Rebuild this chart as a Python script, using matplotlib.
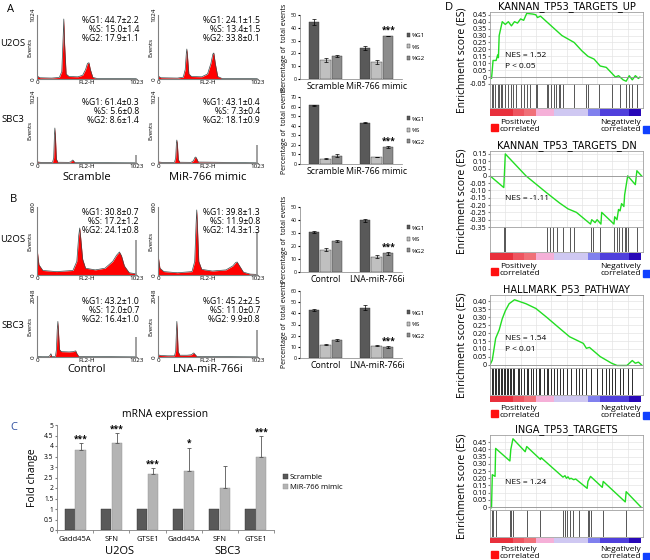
import numpy as np
import matplotlib
matplotlib.use("Agg")
import matplotlib.pyplot as plt
from matplotlib.patches import Rectangle

plt.rcParams['font.family'] = ['Open Sans', 'DejaVu Sans']

# ---------------- DATA ----------------
# flow cytometry histograms (FL2-H channel, events)
a_u2os_scr_x = [0, 8, 30, 150, 230, 255, 270, 276, 283, 300, 330, 420, 470, 500, 520, 535, 550, 575, 620, 1023]
a_u2os_scr_y = [90, 40, 20, 15, 25, 120, 700, 960, 600, 80, 40, 35, 60, 150, 250, 260, 150, 25, 8, 5]
a_u2os_mim_x = [0, 8, 30, 200, 260, 280, 292, 297, 303, 318, 345, 450, 510, 545, 565, 575, 590, 615, 660, 1023]
a_u2os_mim_y = [90, 40, 20, 15, 30, 150, 420, 480, 380, 80, 40, 35, 80, 250, 400, 416, 250, 40, 8, 5]
a_sbc3_scr_x = [0, 10, 40, 160, 172, 180, 184, 190, 200, 215, 330, 350, 362, 368, 375, 390, 1023]
a_sbc3_scr_y = [40, 15, 10, 10, 80, 450, 543, 400, 60, 12, 10, 20, 40, 46, 35, 8, 3]
a_sbc3_mim_x = [0, 10, 40, 170, 182, 190, 194, 199, 210, 225, 340, 365, 380, 389, 398, 415, 1023]
a_sbc3_mim_y = [40, 15, 10, 10, 80, 320, 357, 300, 50, 12, 10, 35, 85, 93, 70, 15, 3]
b_u2os_ctl_x = [0, 5, 20, 60, 200, 370, 410, 430, 440, 450, 470, 500, 600, 700, 780, 820, 849, 870, 900, 950,
                1023]
b_u2os_ctl_y = [397, 200, 90, 40, 30, 40, 120, 350, 415, 330, 140, 60, 45, 60, 120, 175, 203, 170, 80, 20, 10]
b_u2os_lna_x = [0, 5, 20, 60, 200, 350, 378, 392, 399, 406, 420, 450, 560, 700, 770, 800, 815, 840, 880, 950,
                1023]
b_u2os_lna_y = [310, 150, 60, 30, 20, 30, 120, 450, 574, 430, 120, 50, 35, 45, 80, 110, 115, 80, 25, 8, 5]
b_sbc3_ctl_x = [0, 50, 120, 135, 143, 152, 190, 200, 208, 215, 222, 232, 250, 330, 375, 390, 399, 410, 430, 1023]
b_sbc3_ctl_y = [20, 10, 10, 60, 110, 20, 20, 250, 900, 1195, 800, 250, 180, 170, 180, 200, 205, 120, 20, 5]
b_sbc3_lna_x = [0, 5, 30, 100, 170, 182, 190, 194, 199, 208, 225, 300, 345, 360, 368, 378, 400, 1023]
b_sbc3_lna_y = [100, 70, 50, 40, 40, 200, 900, 1195, 850, 180, 60, 60, 75, 120, 137, 100, 20, 5]
# height of the last channel (1023) spike
edge_counts = [0, 0, 124, 280, 310, 380, 680, 920]

# cell cycle percentages [G1, S, G2] per condition
phases = ["%G1", "%S", "%G2"]
a_u2os_mean = [[44.7, 15.0, 17.9], [24.1, 13.4, 33.8]]
a_u2os_sd = [[2.2, 1.4, 1.1], [1.5, 1.5, 0.1]]
a_sbc3_mean = [[61.4, 5.6, 8.6], [43.1, 7.3, 18.1]]
a_sbc3_sd = [[0.3, 0.8, 1.4], [0.4, 0.4, 0.9]]
b_u2os_mean = [[30.8, 17.2, 24.1], [39.8, 11.9, 14.3]]
b_u2os_sd = [[0.7, 1.2, 0.8], [1.3, 0.8, 1.3]]
b_sbc3_mean = [[43.2, 12.0, 16.4], [45.2, 11.0, 9.9]]
b_sbc3_sd = [[1.0, 0.7, 1.0], [2.5, 0.7, 0.8]]
groups_a = ["Scramble", "MiR-766 mimic"]
groups_b = ["Control", "LNA-miR-766i"]

# panel C
genes = ["Gadd45A", "SFN", "GTSE1", "Gadd45A", "SFN", "GTSE1"]
scr_fc = [1, 1, 1, 1, 1, 1]
mimic_fc = [3.82, 4.12, 2.65, 2.82, 2.0, 3.5]
mimic_err = [0.33, 0.5, 0.3, 1.1, 1.05, 0.97]
c_stars = ["***", "***", "***", "*", "", "***"]
cell_lines = ["U2OS", "SBC3"]

# panel D: running enrichment score
es1_x = [0, 0.01, 0.02, 0.04, 0.05, 0.055, 0.06, 0.08, 0.10, 0.12, 0.14, 0.16, 0.18, 0.20, 0.22, 0.24, 0.28,
         0.30, 0.31, 0.33, 0.40, 0.47, 0.55, 0.60, 0.64, 0.68, 0.72, 0.76, 0.82, 0.84, 0.87, 0.89, 0.91, 0.93,
         0.95, 0.97, 0.98]
es1_y = [0, -0.01, 0.12, 0.12, 0.16, 0.14, 0.30, 0.40, 0.38, 0.40, 0.37, 0.40, 0.39, 0.42, 0.41, 0.46, 0.455,
         0.45, 0.43, 0.44, 0.37, 0.30, 0.25, 0.19, 0.15, 0.13, 0.08, 0.07, 0.0, 0.01, -0.02, -0.03, 0.01, -0.02,
         0.01, -0.01, 0.0]
hits1 = [0.01, 0.02, 0.03, 0.05, 0.06, 0.07, 0.08, 0.10, 0.12, 0.14, 0.15, 0.17, 0.20, 0.22, 0.24, 0.26, 0.30,
         0.31, 0.37, 0.38, 0.40, 0.42, 0.43, 0.45, 0.46, 0.48, 0.55, 0.63, 0.64, 0.71, 0.80, 0.85, 0.89, 0.91,
         0.93, 0.96]
es2_x = [0, 0.09, 0.095, 0.10, 0.235, 0.37, 0.455, 0.51, 0.565, 0.657, 0.665, 0.687, 0.70, 0.725, 0.73, 0.81,
         0.815, 0.83, 0.84, 0.85, 0.86, 0.875, 0.88, 0.90, 0.95, 0.96, 0.99]
es2_y = [0, -0.08, 0.03, 0.15, 0.0, -0.116, -0.186, -0.226, -0.25, -0.33, -0.30, -0.32, -0.30, -0.33, -0.25,
         -0.33, -0.28, -0.30, -0.23, -0.24, -0.19, -0.21, -0.13, 0.0, -0.06, 0.035, 0.0]
hits2 = [0.09, 0.10, 0.37, 0.39, 0.41, 0.44, 0.48, 0.52, 0.55, 0.66, 0.67, 0.72, 0.81, 0.83, 0.84, 0.86, 0.88,
         0.89, 0.90, 0.96]
es3_x = [0, 0.015, 0.037, 0.06, 0.08, 0.10, 0.125, 0.16, 0.19, 0.235, 0.30, 0.37, 0.455, 0.52, 0.61, 0.63,
         0.65, 0.72, 0.795, 0.83, 0.895, 0.93, 0.95, 0.97, 0.99]
es3_y = [0, 0.03, 0.167, 0.22, 0.29, 0.34, 0.385, 0.41, 0.40, 0.385, 0.355, 0.30, 0.23, 0.177, 0.135, 0.104,
         0.11, 0.052, 0.01, -0.004, -0.004, 0.027, 0.01, 0.017, 0.0]
hits3 = [0.01, 0.02, 0.03, 0.04, 0.05, 0.06, 0.07, 0.08, 0.09, 0.10, 0.11, 0.12, 0.13, 0.14, 0.15, 0.16, 0.18,
         0.19, 0.20, 0.22, 0.24, 0.25, 0.27, 0.28, 0.30, 0.32, 0.33, 0.35, 0.37, 0.38, 0.40, 0.42, 0.44, 0.46,
         0.48, 0.50, 0.53, 0.56, 0.58, 0.60, 0.63, 0.66, 0.70, 0.73, 0.76, 0.78, 0.80, 0.82, 0.85, 0.87, 0.90,
         0.93]
es4_x = [0, 0.01, 0.015, 0.033, 0.037, 0.13, 0.136, 0.15, 0.23, 0.24, 0.33, 0.334, 0.477, 0.49, 0.50, 0.51,
         0.52, 0.53, 0.547, 0.56, 0.635, 0.64, 0.657, 0.734, 0.74, 0.884, 0.89, 0.987]
es4_y = [0, -0.005, 0.225, 0.213, 0.407, 0.32, 0.40, 0.474, 0.384, 0.42, 0.33, 0.343, 0.208, 0.218, 0.20,
         0.21, 0.195, 0.20, 0.19, 0.195, 0.13, 0.178, 0.213, 0.137, 0.178, 0.036, 0.107, 0.0]
hits4 = [0.01, 0.02, 0.04, 0.13, 0.14, 0.15, 0.24, 0.33, 0.48, 0.49, 0.50, 0.52, 0.54, 0.58, 0.64, 0.65, 0.66,
         0.74, 0.89]
rank_edges = [0, 0.15, 0.22, 0.30, 0.42, 0.64, 0.72, 0.91, 0.99]
rank_colors = ['#e8303c', '#ee5560', '#f07078', '#f5b0d8', '#cfc8f2', '#8080ee', '#5040dc', '#2808b8']

# ---------------- FIGURA ----------------
W, H = 650, 560
fig = plt.figure(figsize=(6.5, 5.6), dpi=100)


def box(l, t, r, b):
    return fig.add_axes([l / W, 1 - b / H, (r - l) / W, (b - t) / H])


def ftext(x, y, s, **kw):
    fig.text(x / W, 1 - y / H, s, **kw)


def histo(l, t, r, b, xs, ys, edge, ymax, mean, sd):
    ax = box(l, t, r, b)
    ax.fill_between(xs, ys, color='#ff0000', lw=0)
    ax.plot(xs, ys, color='#3a4a4a', lw=0.5)
    ax.vlines(1023, 0, edge, color='#909090', lw=1.2)
    ax.set_xlim(0, 1030)
    ax.set_ylim(0, ymax)
    ax.set_xticks([0, 1023])
    ax.set_yticks([0, ymax])
    ax.set_yticklabels(['0', str(ymax)], rotation=90, va='center')
    ax.tick_params(labelsize=4.5, length=0, pad=1)
    for s in ['top', 'right']:
        ax.spines[s].set_visible(False)
    for s in ['left', 'bottom']:
        ax.spines[s].set_color('#808080')
    ax.set_xlabel('FL2-H', fontsize=4.5, labelpad=-4)
    ax.set_ylabel('Events', fontsize=4.5)
    ax.yaxis.set_label_coords(-0.05, 0.5)
    txt = "\n".join(f"{p}: {m:.1f}±{e:.1f}" for p, m, e in zip(phases, mean, sd))
    ax.text(1.02, 0.98, txt, transform=ax.transAxes, ha='right', va='top',
            multialignment='right', fontsize=6.2, linespacing=0.95)


def barchart(l, t, r, b, means, sds, ymax, groups):
    ax = box(l, t, r, b)
    x = np.arange(len(groups))
    w = 0.2
    cols = ['#595959', '#c0c0c0', '#8c8c8c']
    for k in range(3):
        vals = [m[k] for m in means]
        errs = [s[k] for s in sds]
        ax.bar(x + (k - 1) * (w + 0.03), vals, w, color=cols[k], edgecolor='#303030', lw=0.3,
               yerr=errs, error_kw=dict(elinewidth=0.5, capsize=1.2, capthick=0.5), label=phases[k])
    ax.text(x[1] + w + 0.03, means[1][2] + sds[1][2] + ymax * 0.04, '***', ha='center',
            fontsize=6, fontweight='bold')
    ax.set_xlim(-0.5, 1.5)
    ax.set_ylim(0, ymax)
    ax.set_yticks(np.arange(0, ymax + 1, 10))
    ax.set_xticks(x)
    ax.set_xticklabels(groups, fontsize=6.3)
    ax.tick_params(axis='y', labelsize=3.8, length=1.5, pad=1)
    ax.tick_params(axis='x', length=0, pad=2)
    for s in ['top', 'right']:
        ax.spines[s].set_visible(False)
    for s in ['left', 'bottom']:
        ax.spines[s].set_color('#808080')
        ax.spines[s].set_linewidth(0.5)
    ax.set_ylabel('Percentage of  total events', fontsize=5, labelpad=2)
    ax.legend(loc='center left', bbox_to_anchor=(0.99, 0.5), fontsize=4.5, frameon=False,
              handlelength=0.6, handleheight=0.6, handletextpad=0.3, labelspacing=1.0)


# ---------------- PANEL A / B ----------------
ftext(7, 9, 'A', fontsize=8, va='center')
ftext(10, 199, 'B', fontsize=8, va='center')
histo(37, 15, 137, 79, a_u2os_scr_x, a_u2os_scr_y, edge_counts[0], 1024, a_u2os_mean[0], a_u2os_sd[0])
histo(158, 15, 258, 79, a_u2os_mim_x, a_u2os_mim_y, edge_counts[1], 1024, a_u2os_mean[1], a_u2os_sd[1])
histo(37, 97, 137, 163, a_sbc3_scr_x, a_sbc3_scr_y, edge_counts[2], 1024, a_sbc3_mean[0], a_sbc3_sd[0])
histo(158, 97, 258, 163, a_sbc3_mim_x, a_sbc3_mim_y, edge_counts[3], 1024, a_sbc3_mean[1], a_sbc3_sd[1])
histo(37, 207, 137, 275, b_u2os_ctl_x, b_u2os_ctl_y, edge_counts[4], 600, b_u2os_mean[0], b_u2os_sd[0])
histo(158, 207, 258, 275, b_u2os_lna_x, b_u2os_lna_y, edge_counts[5], 600, b_u2os_mean[1], b_u2os_sd[1])
histo(37, 296, 137, 357, b_sbc3_ctl_x, b_sbc3_ctl_y, edge_counts[6], 2048, b_sbc3_mean[0], b_sbc3_sd[0])
histo(158, 296, 258, 357, b_sbc3_lna_x, b_sbc3_lna_y, edge_counts[7], 2048, b_sbc3_mean[1], b_sbc3_sd[1])

for y, lab in [(44, 'U2OS'), (120, 'SBC3'), (240, 'U2OS'), (326, 'SBC3')]:
    ftext(13, y, lab, fontsize=6.8, ha='center', va='center')
for y, labs in [(178, groups_a), (369, groups_b)]:
    ftext(87, y, labs[0], fontsize=8, ha='center', va='center')
    ftext(208, y, labs[1], fontsize=8, ha='center', va='center')

barchart(300, 15, 402, 79, a_u2os_mean, a_u2os_sd, 50, groups_a)
barchart(300, 97, 402, 164, a_sbc3_mean, a_sbc3_sd, 70, groups_a)
barchart(300, 207, 402, 272, b_u2os_mean, b_u2os_sd, 50, groups_b)
barchart(300, 291, 402, 358, b_sbc3_mean, b_sbc3_sd, 60, groups_b)

# ---------------- PANEL C ----------------
ftext(10, 427, 'C', fontsize=8, va='center', color='#3050a0')
axc = box(57, 425, 274, 530)
xc = np.arange(len(genes))
bw = 0.28
axc.bar(xc - 0.15, scr_fc, bw, color='#595959', edgecolor='#303030', lw=0.3, label='Scramble')
axc.bar(xc + 0.15, mimic_fc, bw, color='#b4b4b4', edgecolor='#909090', lw=0.3, label='MiR-766 mimic',
        yerr=[[0] * len(genes), mimic_err], error_kw=dict(elinewidth=0.6, capsize=1.2, capthick=0.6,
                                                          ecolor='#555555'))
for i in range(len(genes)):
    if c_stars[i]:
        axc.text(xc[i] + 0.15, mimic_fc[i] + mimic_err[i] + 0.08, c_stars[i], ha='center',
                 fontsize=6, fontweight='bold')
axc.set_xlim(-0.5, len(genes) - 0.5)
axc.set_ylim(0, 5)
axc.set_yticks(np.arange(0, 5.01, 0.5))
axc.set_yticklabels([f"{v:g}" for v in np.arange(0, 5.01, 0.5)])
axc.set_xticks(xc)
axc.set_xticklabels(genes, fontsize=5.5)
axc.set_xticks(np.arange(-0.5, len(genes), 1), minor=True)
axc.tick_params(axis='x', which='major', length=0, pad=4)
axc.tick_params(axis='x', which='minor', length=2, color='#808080')
axc.tick_params(axis='y', labelsize=4.8, length=1.5, pad=1, color='#808080')
for s in ['top', 'right']:
    axc.spines[s].set_visible(False)
for s in ['left', 'bottom']:
    axc.spines[s].set_color('#808080')
    axc.spines[s].set_linewidth(0.6)
axc.set_ylabel('Fold change', fontsize=7.5, labelpad=4)
axc.set_title('mRNA expression', fontsize=7.5, pad=6)
axc.legend(loc='center left', bbox_to_anchor=(1.01, 0.45), fontsize=5.5, frameon=False,
           handlelength=0.6, handleheight=0.6, handletextpad=0.3, labelspacing=0.4)
ftext(120, 551, cell_lines[0], fontsize=8, ha='center', va='center')
ftext(228, 551, cell_lines[1], fontsize=8, ha='center', va='center')

# ---------------- PANEL D ----------------
ftext(445, 7, 'D', fontsize=8, va='center')


def gsea(t_es, b_es, b_hits, b_bar, title, xs, ys, hits, ylim, yticks, nes, pval, hitcol):
    L, R = 490, 643
    ax = box(L, t_es, R, b_es)
    ax.plot(xs, ys, color='#22dd22', lw=1)
    ax.axhline(0, color='#909090', lw=0.6)
    ax.set_xlim(0, 1)
    ax.set_ylim(*ylim)
    ax.set_yticks(yticks)
    ax.set_yticklabels(['0' if abs(v) < 1e-9 else f"{v:.2f}" for v in yticks])
    ax.set_xticks(np.arange(0.1, 1.0, 0.1))
    ax.grid(True, color='#e4e4e4', lw=0.5)
    ax.tick_params(axis='x', length=0, labelbottom=False)
    ax.tick_params(axis='y', labelsize=5.2, length=1.5, pad=1, color='#808080')
    for s in ax.spines.values():
        s.set_color('#a0a0a0')
        s.set_linewidth(0.6)
    ax.set_title(title, fontsize=7, pad=2, family=['DejaVu Sans'])
    ax.text(0.1, 0.40 if pval else 0.37, nes, transform=ax.transAxes, fontsize=6, va='center')
    if pval:
        ax.text(0.1, 0.25, pval, transform=ax.transAxes, fontsize=6, va='center')

    axh = box(L, b_es, R, b_hits)
    axh.vlines(hits, 0, 1, color=hitcol, lw=0.7)
    axh.set_xlim(0, 1)
    axh.set_ylim(0, 1)
    axh.set_xticks([])
    axh.set_yticks([])
    for s in axh.spines.values():
        s.set_color('#a0a0a0')
        s.set_linewidth(0.6)

    axb = box(L, b_hits + 1, R, b_bar)
    for i in range(len(rank_colors)):
        axb.axvspan(rank_edges[i], rank_edges[i + 1], color=rank_colors[i], lw=0)
    axb.set_xlim(0, 1)
    axb.set_ylim(0, 1)
    axb.axis('off')

    ftext(462, (t_es + b_hits) / 2, 'Enrichment score (ES)', fontsize=7.5, rotation=90,
          ha='center', va='center')
    yl = b_bar + 3
    fig.patches.append(Rectangle(((L + 1) / W, 1 - (yl + 12) / H), 7 / W, 7 / H,
                                 transform=fig.transFigure, color='#ff1010'))
    ftext(L + 10, yl, 'Positively\ncorrelated', fontsize=6, va='top', linespacing=1.0)
    fig.patches.append(Rectangle((643 / W, 1 - (yl + 14) / H), 7 / W, 7 / H,
                                 transform=fig.transFigure, color='#1040ff'))
    ftext(641, yl, 'Negatively\ncorrelated', fontsize=6, va='top', ha='right', linespacing=1.0)


gsea(12, 84, 108, 116, 'KANNAN_TP53_TARGETS_UP', es1_x, es1_y, hits1, (-0.05, 0.47),
     np.round(np.arange(-0.05, 0.46, 0.05), 2), 'NES = 1.52', 'P < 0.05', '#555555')
gsea(151, 227, 252, 260, 'KANNAN_TP53_TARGETS_DN', es2_x, es2_y, hits2, (-0.35, 0.17),
     np.round(np.arange(-0.35, 0.16, 0.05), 2), 'NES = -1.11', None, '#555555')
gsea(295, 368, 395, 402, 'HALLMARK_P53_PATHWAY', es3_x, es3_y, hits3, (-0.02, 0.44),
     np.round(np.arange(0, 0.41, 0.05), 2), 'NES = 1.54', 'P < 0.01', '#2a2a2a')
gsea(435, 510, 537, 543, 'INGA_TP53_TARGETS', es4_x, es4_y, hits4, (-0.02, 0.50),
     np.round(np.arange(0, 0.46, 0.05), 2), 'NES = 1.24', None, '#555555')

fig.savefig('out.png', dpi=100)
